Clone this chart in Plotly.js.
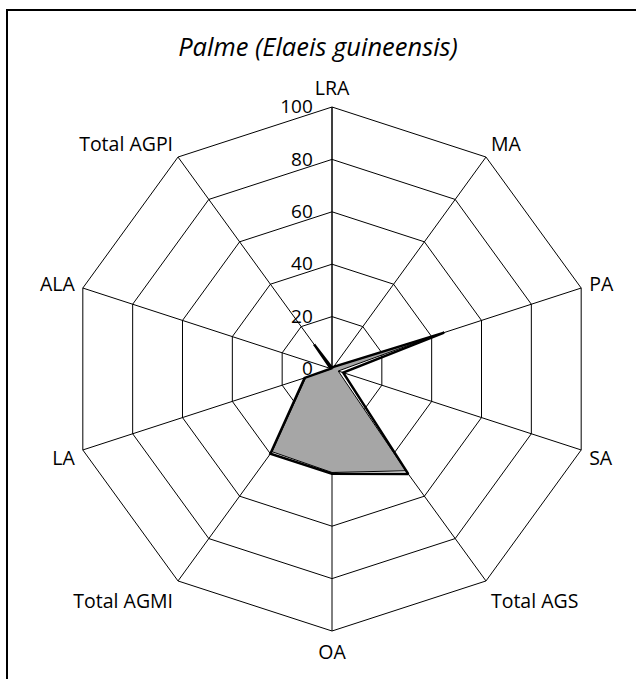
<!DOCTYPE html>
<html>
<head>
<meta charset="utf-8">
<script src="https://cdn.plot.ly/plotly-3.0.1.min.js"></script>
<style>
  html, body { margin: 0; padding: 0; background: #fff; }
  #frame { position: absolute; left: 6px; top: 9px; width: 700px; height: 700px;
           border-left: 2px solid #000; border-top: 2px solid #000; }
  #chart { position: absolute; left: 0; top: 0; width: 636px; height: 679px; }
</style>
</head>
<body>
<div id="frame"></div>
<div id="chart"></div>
<script>
const categories = ['LRA', 'MA', 'PA', 'SA', 'Total AGS', 'OA', 'Total AGMI', 'LA', 'ALA', 'Total AGPI'];
const greyValues  = [0.3, 1, 42, 2.5, 48, 39.5, 39, 10.5, 0.3, 0.5];
const blackValues = [0.5, 1, 45, 4.5, 49.5, 40, 40, 11, 0.5, 11.6];
const radialTicks = [0, 20, 40, 60, 80, 100];
const titleText = 'Palme (Elaeis guineensis)';

const closeLoop = arr => arr.concat([arr[0]]);
const FONT = 'Open Sans, Lato, sans-serif';

const traces = [
  {
    type: 'scatterpolar',
    r: closeLoop(greyValues),
    theta: closeLoop(categories),
    fill: 'toself',
    fillcolor: '#a6a6a6',
    mode: 'lines',
    line: { color: '#000', width: 1 },
    hoverinfo: 'skip'
  },
  {
    type: 'scatterpolar',
    r: closeLoop(blackValues),
    theta: closeLoop(categories),
    mode: 'lines',
    line: { color: '#000', width: 2.5 },
    hoverinfo: 'skip'
  }
];

const layout = {
  width: 636,
  height: 679,
  margin: { l: 70, r: 42, t: 107, b: 48 },
  paper_bgcolor: 'rgba(0,0,0,0)',
  plot_bgcolor: 'rgba(0,0,0,0)',
  showlegend: false,
  font: { family: FONT, color: '#000', size: 19 },
  title: {
    text: '<i>' + titleText + '</i>',
    font: { family: FONT, size: 25.5, color: '#000' },
    x: 318 / 636, xref: 'container', xanchor: 'center',
    y: 1 - 47 / 679, yref: 'container', yanchor: 'middle'
  },
  polar: {
    bgcolor: '#fff',
    gridshape: 'linear',
    domain: { x: [0, 1], y: [0, 1] },
    radialaxis: {
      range: [0, 100],
      tickvals: radialTicks,
      ticktext: radialTicks.map(String),
      angle: 90,
      tickangle: 90,
      side: 'counterclockwise',
      ticks: 'outside',
      ticklen: 12,
      tickcolor: 'rgba(0,0,0,0)',
      showline: true,
      linecolor: '#000',
      linewidth: 1,
      gridcolor: '#000',
      gridwidth: 1,
      tickfont: { family: FONT, size: 19, color: '#000' }
    },
    angularaxis: {
      type: 'category',
      categoryarray: categories,
      rotation: 90,
      direction: 'clockwise',
      ticks: 'outside',
      ticklen: 4,
      tickcolor: 'rgba(0,0,0,0)',
      showline: true,
      linecolor: '#000',
      linewidth: 1,
      gridcolor: '#000',
      gridwidth: 1,
      tickfont: { family: FONT, size: 19.5, color: '#000' }
    }
  }
};

Plotly.newPlot('chart', traces, layout, { displayModeBar: false, staticPlot: true });
</script>
</body>
</html>
